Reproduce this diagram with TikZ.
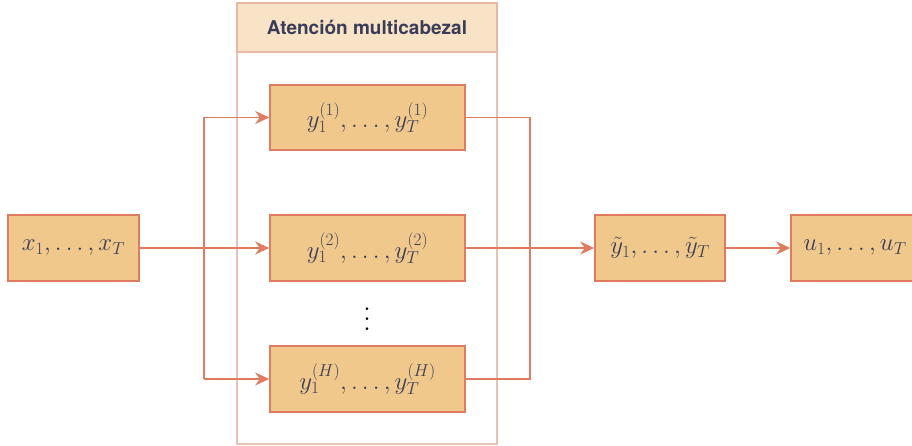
\documentclass[tikz,border=0pt]{standalone}
\usepackage{fontspec}
\setsansfont{TeX Gyre Heros}
\usetikzlibrary{arrows.meta}
\definecolor{boxfill}{HTML}{F0C88C}
\definecolor{boxline}{HTML}{E07B60}
\definecolor{contline}{HTML}{E8C2B6}
\definecolor{titlefill}{HTML}{F9E3C6}
\definecolor{titleline}{HTML}{E8B8A6}
\definecolor{ink}{HTML}{3A3D58}
\tikzset{
  vecbox/.style={draw=boxline, fill=boxfill, line width=1.6pt, text=ink,
    font=\fontsize{23}{27}\selectfont, inner sep=0pt, minimum height=66pt},
  conn/.style={draw=boxline, line width=1.6pt},
  arr/.style={conn, -{Stealth[length=14pt,width=13pt]}},
}
\begin{document}
\begin{tikzpicture}[x=1pt,y=-1pt]
\useasboundingbox (0,0) rectangle (912,446);
% container
\draw[contline, line width=1.4pt] (237,52) rectangle (497,444);
\node[draw=titleline, fill=titlefill, line width=1.4pt, minimum width=260pt, minimum height=49pt,
  inner sep=0pt, text=ink, font=\sffamily\bfseries\fontsize{19}{22}\selectfont] (title) at (367,27.5) {Atención multicabezal};
% boxes
\node[vecbox, minimum width=131pt] (x) at (73.5,248) {$x_1,\ldots,x_T$};
\node[vecbox, minimum width=195pt, minimum height=65pt] (h1) at (367.5,117.5) {$y_1^{(1)},\ldots,y_T^{(1)}$};
\node[vecbox, minimum width=195pt] (h2) at (367.5,248) {$y_1^{(2)},\ldots,y_T^{(2)}$};
\node[vecbox, minimum width=195pt] (h3) at (367.5,379) {$y_1^{(H)},\ldots,y_T^{(H)}$};
\node[text=black, inner sep=0pt] (dots) at (367,312) {\scalebox{2.5}{$\vdots$}};
\node[vecbox, minimum width=130pt] (yt) at (660,248) {$\tilde y_1,\ldots,\tilde y_T$};
\node[vecbox, minimum width=128pt] (u) at (855,248) {$u_1,\ldots,u_T$};
% connectors
\coordinate (s1) at (204,117.5);
\coordinate (s3) at (204,379);
\coordinate (m1) at (530,117.5);
\coordinate (m3) at (530,379);
\draw[arr] (x.east) -- (h2.west);
\draw[arr] (s3) -- (s1) -- (h1.west);
\draw[arr] (s3) -- (h3.west);
\draw[conn] (h1.east) -- (m1) -- (m3) -- (h3.east);
\draw[arr] (h2.east) -- (yt.west);
\draw[arr] (yt.east) -- (u.west);
\end{tikzpicture}
\end{document}
